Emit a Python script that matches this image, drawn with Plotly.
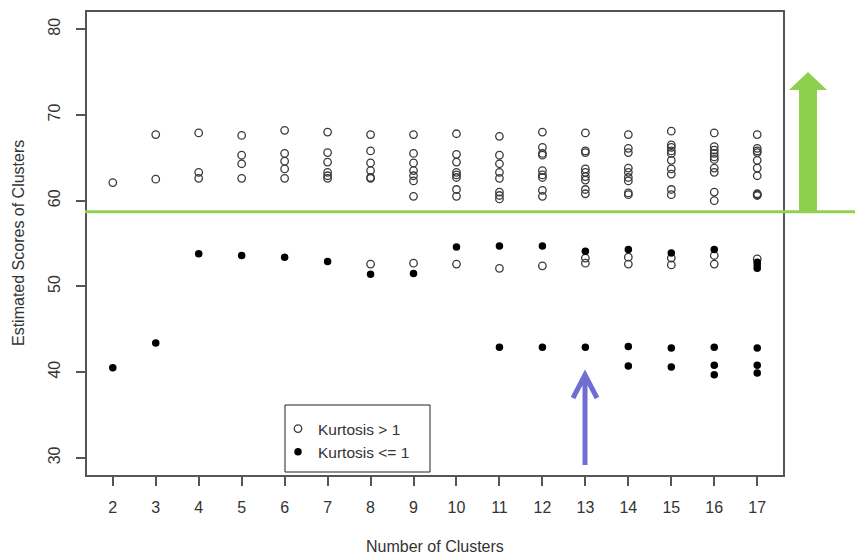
import plotly.graph_objects as go

# ---- data ----
clusters = list(range(2, 18))

kurt_high = [  # Kurtosis > 1 (open circles), one list per number of clusters
    [62.1],
    [67.7, 62.5],
    [67.9, 63.3, 62.6],
    [67.6, 65.3, 64.3, 62.6],
    [68.2, 65.5, 64.6, 63.7, 62.6],
    [68.0, 65.6, 64.5, 63.3, 62.9, 62.6],
    [67.7, 65.8, 64.4, 63.5, 62.7, 62.6, 52.6],
    [67.7, 65.5, 64.4, 63.5, 62.9, 62.3, 60.5, 52.7],
    [67.8, 65.4, 64.5, 63.3, 63.0, 62.7, 61.3, 60.5, 52.6],
    [67.5, 65.3, 64.3, 63.3, 62.6, 61.0, 60.6, 60.2, 52.1],
    [68.0, 66.2, 65.5, 65.3, 63.5, 63.0, 62.7, 61.2, 60.5, 52.4],
    [67.9, 65.8, 65.6, 63.7, 63.3, 62.8, 62.4, 61.3, 60.8, 53.3, 52.7],
    [67.7, 66.1, 65.6, 63.8, 63.3, 62.7, 62.3, 60.9, 60.7, 53.4, 52.6],
    [68.1, 66.5, 66.2, 65.8, 65.5, 64.7, 63.7, 63.1, 61.3, 60.7, 53.3, 52.5],
    [67.9, 66.3, 65.9, 65.5, 65.1, 64.8, 63.8, 63.3, 61.0, 60.0, 53.6, 52.6],
    [67.7, 66.1, 65.8, 65.6, 64.7, 63.8, 62.9, 60.8, 60.7, 60.6, 53.2],
]

kurt_low = [  # Kurtosis <= 1 (filled dots)
    [40.5],
    [43.4],
    [53.8],
    [53.6],
    [53.4],
    [52.9],
    [51.4],
    [51.5],
    [54.6],
    [54.7, 42.9],
    [54.7, 42.9],
    [54.1, 42.9],
    [54.3, 43.0, 40.7],
    [53.9, 42.8, 40.6],
    [54.3, 42.9, 40.8, 39.7],
    [52.8, 52.5, 52.1, 42.8, 40.8, 39.9],
]

threshold = 58.7
x_ticks = clusters
y_ticks = [30, 40, 50, 60, 70, 80]


def flatten(groups):
    xs, ys = [], []
    for k, vals in zip(clusters, groups):
        for v in vals:
            xs.append(k)
            ys.append(v)
    return xs, ys


hx, hy = flatten(kurt_high)
lx, ly = flatten(kurt_low)

FONT = "Liberation Sans, Arial, sans-serif"
AX = "#555555"
TXT = "#333333"

fig = go.Figure()
fig.add_trace(go.Scatter(
    x=hx, y=hy, mode="markers", name="Kurtosis > 1",
    marker=dict(symbol="circle-open", size=7.5, color="#3a3a3a", line=dict(width=1.3)),
))
fig.add_trace(go.Scatter(
    x=lx, y=ly, mode="markers", name="Kurtosis <= 1",
    marker=dict(symbol="circle", size=7.5, color="#000000"),
))

# The page body has an 8px margin, so the figure sits at (8, 8) in the window.
OFF = 8
W, H = 863 - OFF, 554 - OFF
# plot box in window pixels: 87..783 x 12..475
L, R, T, B = 87 - OFF, 783 - OFF, 12 - OFF, 475 - OFF


def px(xw):
    return (xw - OFF - L) / (R - L)


def py(yw):
    return (B - (yw - OFF)) / (B - T)


shapes = [
    # green threshold line across the plot and beyond
    dict(type="line", xref="paper", yref="y", x0=px(85), x1=px(864),
         y0=threshold, y1=threshold, line=dict(color="#92d050", width=3)),
    # big green arrow
    dict(type="path", xref="paper", yref="paper",
         path=("M{a},{b} L{a},{c} L{h1},{c} L{m},{t} L{h2},{c} L{d},{c} L{d},{b} Z").format(
             a=px(799), d=px(817), b=py(211), c=py(90), h1=px(789), h2=px(827),
             m=px(808), t=py(72)),
         fillcolor="#8fcf4f", line=dict(width=0)),
    # blue arrow
    dict(type="path", xref="paper", yref="paper",
         path=("M{m},{b} L{m},{t} M{l},{hb} L{m},{tt} L{r},{hb}").format(
             m=px(585), b=py(465), t=py(377), l=px(573), r=px(597),
             hb=py(398), tt=py(375)),
         line=dict(color="#6e6ed3", width=5)),
    # legend box
    dict(type="rect", xref="paper", yref="paper",
         x0=px(285), x1=px(430), y0=py(472), y1=py(405),
         line=dict(color="#222222", width=1), fillcolor="white", layer="below"),
]

annotations = [
    dict(text="Number of Clusters", xref="paper", yref="paper",
         x=px(435), y=py(546), xanchor="center", yanchor="middle",
         showarrow=False, font=dict(size=16, color=TXT)),
    dict(text="Estimated Scores of Clusters", xref="paper", yref="paper",
         x=px(18), y=py(243), xanchor="center", yanchor="middle", textangle=-90,
         showarrow=False, font=dict(size=16, color=TXT)),
]

fig.update_layout(
    width=W, height=H,
    margin=dict(l=L, r=W - R, t=T, b=H - B, autoexpand=False),
    paper_bgcolor="white", plot_bgcolor="white",
    font=dict(family=FONT, color=TXT, size=15),
    shapes=shapes,
    annotations=annotations,
    showlegend=True,
    legend=dict(
        x=px(278), y=py(412), xanchor="left", yanchor="top",
        borderwidth=0, bgcolor="rgba(0,0,0,0)",
        font=dict(size=15.5, color=TXT), tracegroupgap=0,
    ),
)

fig.update_xaxes(
    range=[1.4, 17.6], tickvals=x_ticks, ticktext=[str(v) for v in x_ticks],
    showgrid=False, zeroline=False, showline=True, linecolor=AX, linewidth=1.5,
    mirror=True, ticks="outside", ticklen=9, tickcolor=AX, tickwidth=1.5,
    tickfont=dict(size=16, color=TXT), ticklabelstandoff=8, automargin=False,
)
fig.update_yaxes(
    range=[28, 82], tickvals=y_ticks,
    showgrid=False, zeroline=False, showline=True, linecolor=AX, linewidth=1.5,
    mirror=True, ticks="outside", ticklen=9, tickcolor=AX, tickwidth=1.5,
    tickangle=-90, tickfont=dict(size=16, color=TXT), ticklabelstandoff=10,
    automargin=False,
)

fig.write_html("out.html")
